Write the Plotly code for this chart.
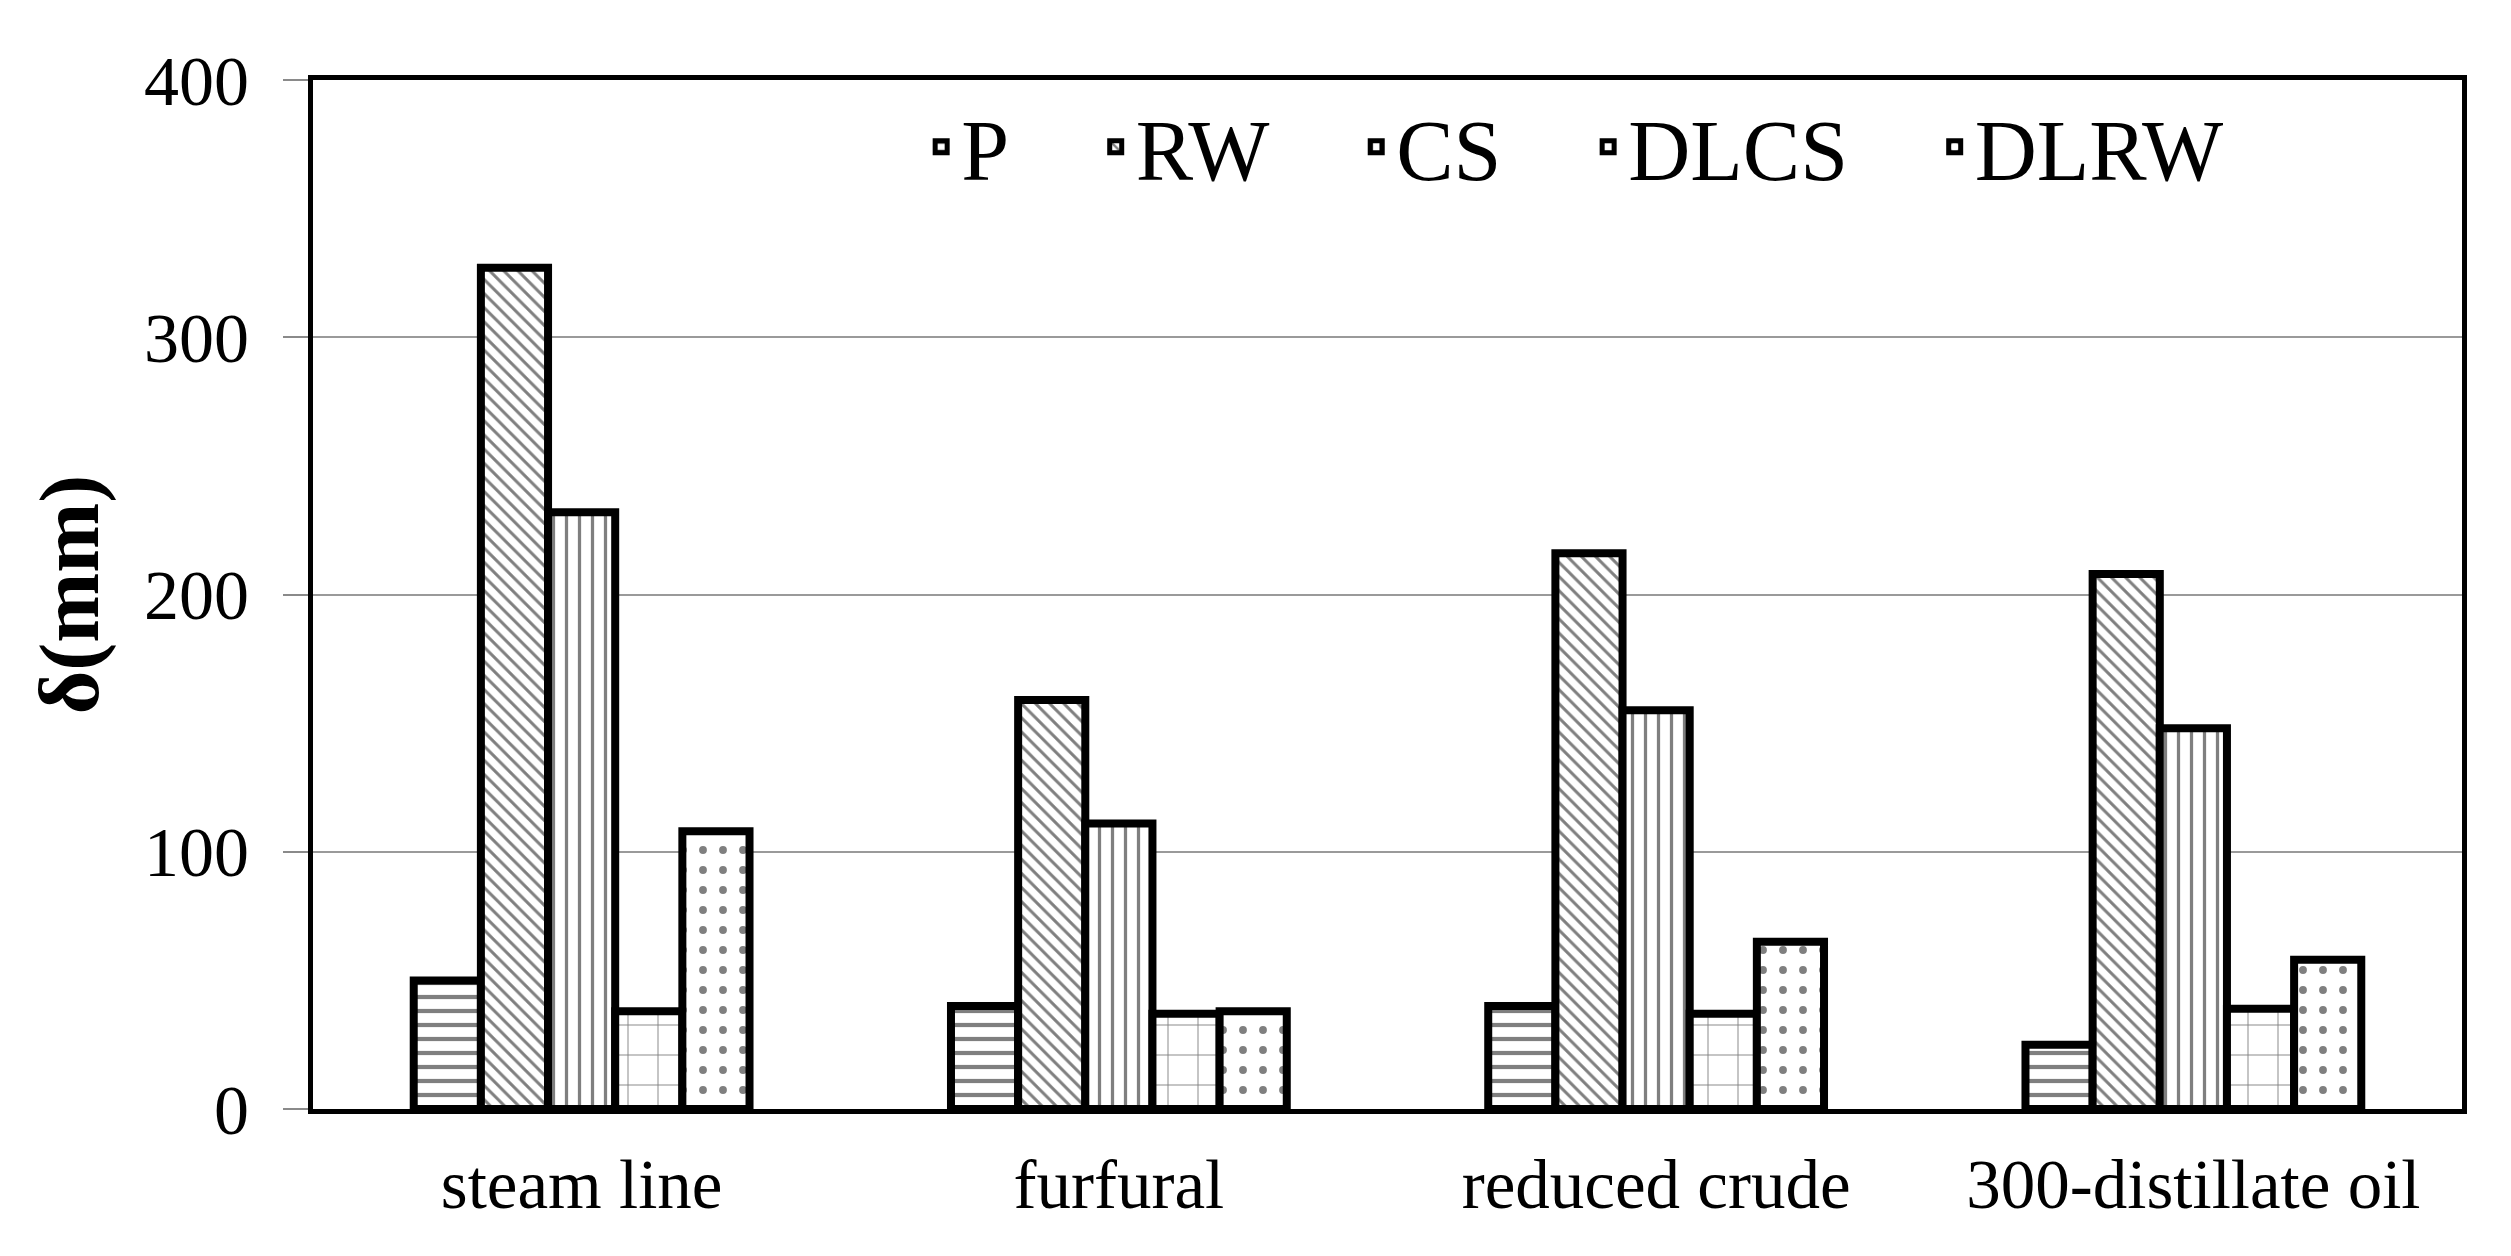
import plotly.graph_objects as go

categories = ["steam line", "furfural", "reduced crude", "300-distillate oil"]
series_names = ["P", "RW", "CS", "DLCS", "DLRW"]
P = [50, 40, 40, 25]
RW = [327, 159, 216, 208]
CS = [232, 111, 155, 148]
DLCS = [38, 37, 37, 39]
DLRW = [108, 38, 65, 58]
y_ticks = [0, 100, 200, 300, 400]

values = [P, RW, CS, DLCS, DLRW]
patterns = [
    dict(shape="-", size=14, solidity=0.3),
    dict(shape="\\", size=10, solidity=0.3),
    dict(shape="|", size=13, solidity=0.25),
    dict(shape="+", size=30, solidity=0.06),
    dict(shape=".", size=20, solidity=0.12),
]

FONT = "Liberation Serif, Times New Roman, serif"
PAD = "\u00a0" * 3 + "\u2009"

fig = go.Figure()
for name, vals, pat in zip(series_names, values, patterns):
    fig.add_trace(go.Bar(
        x=categories, y=vals, name=name + PAD,
        marker=dict(color="white",
                    line=dict(color="black", width=8),
                    pattern=dict(fgcolor="black", bgcolor="white",
                                 fillmode="overlay", **pat)),
    ))

fig.update_layout(
    width=2511, height=1256,
    margin=dict(l=305, r=57, t=72, b=155),
    paper_bgcolor="white", plot_bgcolor="white",
    barmode="group", bargap=0.375, bargroupgap=0,
    font=dict(family=FONT, color="black", size=70),
    legend=dict(orientation="h", x=0.283, y=0.935, xanchor="left", yanchor="middle",
                font=dict(size=86, family=FONT), bgcolor="rgba(0,0,0,0)",
                itemwidth=30, tracegroupgap=0),
    showlegend=True,
)
fig.update_yaxes(
    range=[0, 400], tickvals=y_ticks, ticktext=[str(v) for v in y_ticks],
    showgrid=True, gridcolor="#9a9a9a", gridwidth=2,
    showline=True, linecolor="black", linewidth=5, mirror=True,
    ticks="outside", ticklen=25, tickcolor="#8a8a8a", tickwidth=2,
    ticklabelstandoff=20,
    tickfont=dict(size=70, family=FONT),
    title=dict(text="<b>δ(mm)</b>", font=dict(size=84, family=FONT), standoff=19),
    zeroline=False,
)
fig.update_xaxes(
    showline=True, linecolor="black", linewidth=5, mirror=True,
    ticks="", ticklabelstandoff=11, tickfont=dict(size=69, family=FONT),
)

fig.write_html("out.html")
